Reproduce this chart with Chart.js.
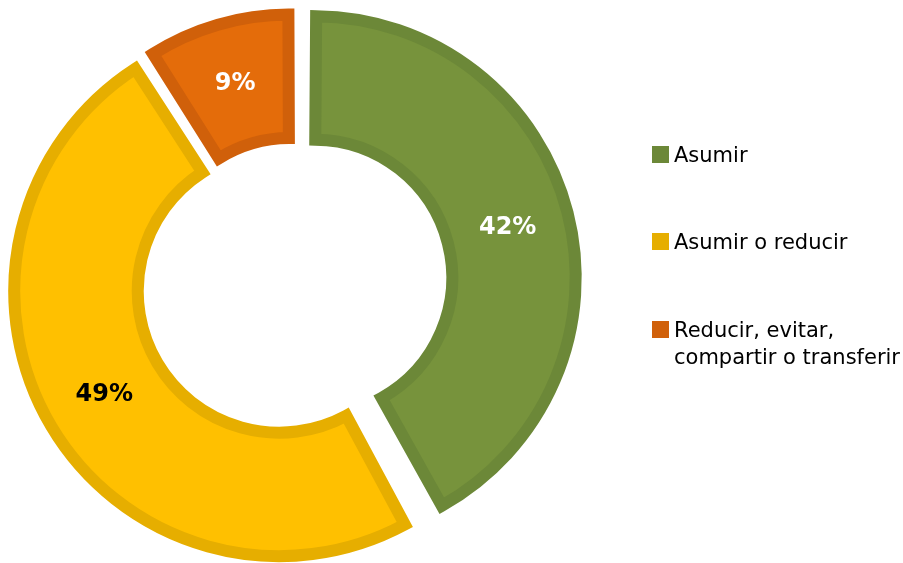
<!DOCTYPE html>
<html lang="es">
<head>
<meta charset="utf-8">
<title>Respuesta al riesgo</title>
<script src="https://cdn.jsdelivr.net/npm/chart.js@4.4.1/dist/chart.umd.min.js"></script>
<style>
    html, body { margin: 0; padding: 0; background: #ffffff; }
    #wrap { position: relative; width: 903px; height: 563px; overflow: hidden; }
    #chart { position: absolute; left: 0; top: 0; }
    .legend-item { position: absolute; left: 652px; font-family: "DejaVu Sans", Verdana, sans-serif;
        font-size: 21px; line-height: 27px; color: #000; }
    .legend-box { position: absolute; left: 0; top: 4px; width: 17px; height: 17px; }
    .legend-text { margin-left: 22px; width: 230px; }
</style>
</head>
<body>
<div id="wrap">
    <canvas id="chart" width="903" height="563"></canvas>
</div>
<script>
// data
const categories = ['Asumir', 'Asumir o reducir', 'Reducir, evitar, compartir o transferir'];
const shares = [42, 49, 9];
const pctLabels = ['42%', '49%', '9%'];

// styling
const fillColors = ['#77933c', '#ffc000', '#e46c0a'];
const edgeColors = ['#6c8838', '#e6ae00', '#d0600a'];
const labelColors = ['#ffffff', '#000000', '#ffffff'];
const explode = [88, 64, 52];
const legendTops = [142, 229, 317];

// ============================================
// PERCENT LABELS - drawn in the middle of each ring slice
// ============================================
const sliceLabels = {
    id: 'sliceLabels',
    afterDatasetsDraw(chart) {
        const ctx = chart.ctx;
        const meta = chart.getDatasetMeta(0);
        ctx.save();
        ctx.font = 'bold 24px "DejaVu Sans", Verdana, sans-serif';
        ctx.textAlign = 'center';
        ctx.textBaseline = 'middle';
        meta.data.forEach((arc, i) => {
            const p = arc.getProps(['x', 'y', 'startAngle', 'endAngle', 'innerRadius', 'outerRadius', 'circumference'], true);
            const half = (p.startAngle + p.endAngle) / 2;
            // same shift + radius growth the arc element applies for its offset
            const off = (arc.options.offset || 0) / 4;
            const fix = 1 - Math.sin(Math.min(Math.PI, p.circumference || 0));
            const r = (p.innerRadius + p.outerRadius) / 2 + off + off * fix;
            ctx.fillStyle = labelColors[i];
            ctx.fillText(pctLabels[i], p.x + Math.cos(half) * r, p.y + Math.sin(half) * r);
        });
        ctx.restore();
    }
};

new Chart(document.getElementById('chart').getContext('2d'), {
    type: 'doughnut',
    data: {
        labels: categories,
        datasets: [{
            data: shares,
            backgroundColor: fillColors,
            borderColor: edgeColors,
            borderWidth: 12,
            borderAlign: 'center',
            borderJoinStyle: 'miter',
            offset: explode
        }]
    },
    options: {
        responsive: false,
        animation: false,
        radius: 250,
        cutout: '50.6%',
        layout: { padding: { left: 0, right: 317, top: 3, bottom: 0 } },
        plugins: {
            legend: { display: false },
            tooltip: { enabled: false }
        }
    },
    plugins: [sliceLabels]
});

// ============================================
// LEGEND - built from the same arrays
// ============================================
const wrap = document.getElementById('wrap');
categories.forEach((name, i) => {
    const item = document.createElement('div');
    item.className = 'legend-item';
    item.style.top = legendTops[i] + 'px';
    const box = document.createElement('div');
    box.className = 'legend-box';
    box.style.background = edgeColors[i];
    const text = document.createElement('div');
    text.className = 'legend-text';
    text.textContent = name;
    item.appendChild(box);
    item.appendChild(text);
    wrap.appendChild(item);
});
</script>
</body>
</html>
